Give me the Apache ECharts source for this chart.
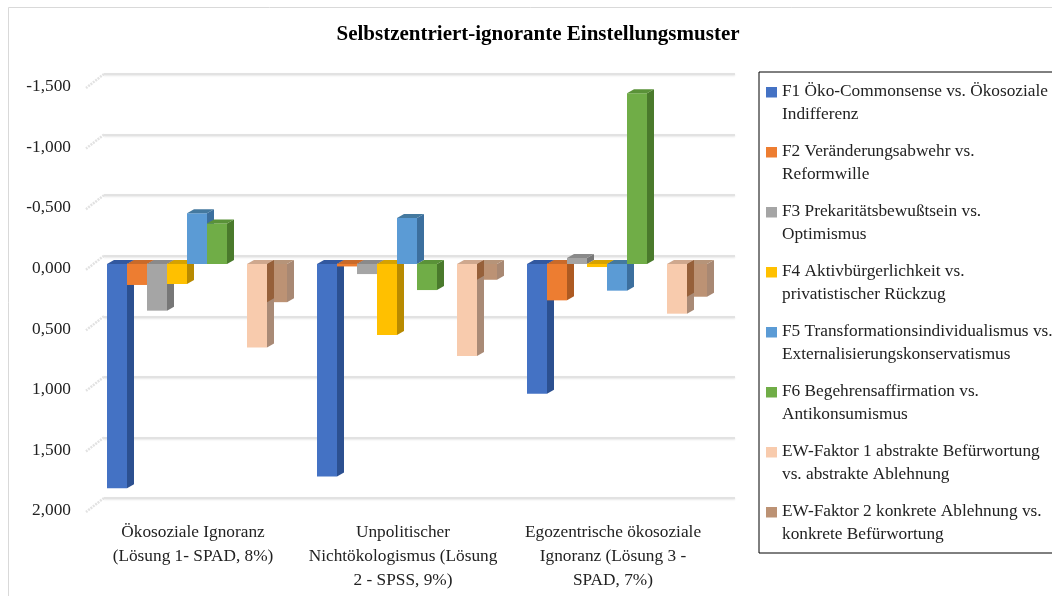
<!DOCTYPE html>
<html>
<head>
<meta charset="utf-8">
<title>Selbstzentriert-ignorante Einstellungsmuster</title>
<script src="https://cdn.jsdelivr.net/npm/echarts@6/dist/echarts.min.js"></script>
<style>
html, body { margin: 0; height: 100%; overflow: hidden; background: #fff; }
#main { width: 1052px; height: 596px; }
</style>
</head>
<body>
<div id="main"></div>
<script>
var chartTitle = 'Selbstzentriert-ignorante Einstellungsmuster';
var categories = [
  'Ökosoziale Ignoranz\n(Lösung 1- SPAD, 8%)',
  'Unpolitischer\nNichtökologismus (Lösung\n2 - SPSS, 9%)',
  'Egozentrische ökosoziale\nIgnoranz (Lösung 3 -\nSPAD, 7%)'
];
var seriesNames = [
  'F1 Öko-Commonsense vs. Ökosoziale\nIndifferenz',
  'F2 Veränderungsabwehr vs.\nReformwille',
  'F3 Prekaritätsbewußtsein vs.\nOptimismus',
  'F4 Aktivbürgerlichkeit vs.\nprivatistischer Rückzug',
  'F5 Transformationsindividualismus vs.\nExternalisierungskonservatismus',
  'F6 Begehrensaffirmation vs.\nAntikonsumismus',
  'EW-Faktor 1 abstrakte Befürwortung\nvs. abstrakte Ablehnung',
  'EW-Faktor 2 konkrete Ablehnung vs.\nkonkrete Befürwortung'
];
var f1 = [1.85, 1.755, 1.07];
var f2 = [0.173, 0.02, 0.30];
var f3 = [0.385, 0.083, -0.05];
var f4 = [0.165, 0.585, 0.025];
var f5 = [-0.42, -0.38, 0.22];
var f6 = [-0.335, 0.215, -1.41];
var ew1 = [0.69, 0.76, 0.41];
var ew2 = [0.315, 0.13, 0.27];
var seriesValues = [f1, f2, f3, f4, f5, f6, ew1, ew2];
var tickValues = [-1.5, -1, -0.5, 0, 0.5, 1, 1.5, 2];

// front, side, top of each column
var frontColors = ['#4472C4', '#ED7D31', '#A5A5A5', '#FFC000', '#5B9BD5', '#70AD47', '#F8CBAD', '#BC9274'];
var sideColors = ['#2C5090', '#AD5A22', '#777777', '#B88A00', '#3C6F9E', '#4A7A2C', '#A98A76', '#A88873'];
var topColors = ['#32589F', '#C96A2A', '#8A8A8A', '#D6A200', '#44799F', '#5A9238', '#CFA88E', '#B69479'];
var sideOver = ['', '', '', '', '', '', '#96603A', ''];

// slot 6 stays empty in the original
var slots = [0, 1, 2, 3, 4, 5, 7, 8];
var barW = 20, depthX = 7, depthY = 4;
var font = '"Liberation Serif", serif';

function fmt(v) {
  return v.toFixed(3).replace('.', ',');
}

function barRenderer(s) {
  return function (params, api) {
    var cat = api.value(0), val = api.value(1);
    var base = api.coord([cat, 0]);
    var end = api.coord([cat, val]);
    var xl = base[0] + 4 - 90 + slots[s] * barW;
    var xr = xl + barW;
    var up = Math.min(base[1], end[1]);
    var lo = Math.max(base[1], end[1]);
    var children = [{
      type: 'rect',
      shape: { x: xl, y: up, width: barW, height: lo - up },
      style: { fill: frontColors[s] }
    }, {
      type: 'polygon',
      shape: { points: [[xr, up], [xr + depthX, up - depthY], [xr + depthX, lo - depthY], [xr, lo]] },
      style: { fill: sideColors[s] }
    }, {
      type: 'polygon',
      shape: { points: [[xl, up], [xl + depthX, up - depthY], [xr + depthX, up - depthY], [xr, up]] },
      style: { fill: topColors[s] }
    }];
    // the peach column's side is see-through where it crosses its neighbour
    if (sideOver[s]) {
      var nb = api.coord([cat, seriesValues[s + 1][cat]])[1];
      children.push({
        type: 'polygon',
        shape: { points: [[xr, up], [xr + depthX, up - depthY], [xr + depthX, nb - depthY], [xr, nb]] },
        style: { fill: sideOver[s] }
      });
    }
    return { type: 'group', children: children };
  };
}

var series = [{
  // little ticks on the side wall
  type: 'custom',
  xAxisIndex: 1,
  yAxisIndex: 1,
  silent: true,
  legendHoverLink: false,
  data: tickValues.map(function (t) { return [0, t]; }),
  renderItem: function (params, api) {
    var p = api.coord([0, api.value(1)]);
    return {
      type: 'line',
      shape: { x1: 104, y1: p[1], x2: 86, y2: p[1] + 14 },
      style: { stroke: '#e2e2e2', lineWidth: 2.5, lineDash: [2, 1] }
    };
  }
}];

// EW2 goes under EW1, the rest left to right
[0, 1, 2, 3, 4, 5, 7, 6].forEach(function (s) {
  series.push({
    name: seriesNames[s],
    type: 'custom',
    xAxisIndex: 0,
    yAxisIndex: 0,
    itemStyle: { color: frontColors[s] },
    encode: { x: 0, y: 1 },
    data: seriesValues[s].map(function (v, i) { return [i, v]; }),
    renderItem: barRenderer(s)
  });
});

var myChart = echarts.init(document.getElementById('main'));
myChart.setOption({
  animation: false,
  backgroundColor: '#fff',
  title: {
    text: chartTitle,
    left: 533,
    top: 19,
    textAlign: 'center',
    textStyle: { fontFamily: font, fontSize: 21, fontWeight: 'bold', color: '#000' }
  },
  legend: {
    data: seriesNames,
    orient: 'vertical',
    left: 759,
    top: 72,
    padding: [8, 20, 7, 7],
    itemGap: 14,
    itemWidth: 11,
    itemHeight: 46,
    symbolKeepAspect: false,
    icon: 'path://M0,0L0,0M0,7H11V17.5H0ZM0,46L0,46',
    borderColor: '#000',
    borderWidth: 1,
    backgroundColor: '#fff',
    textStyle: { fontFamily: font, fontSize: 17.3, lineHeight: 23, color: '#222' }
  },
  graphic: [{
    type: 'rect',
    silent: true,
    z: -1,
    shape: { x: 8.5, y: 7.5, width: 1100, height: 700 },
    style: { fill: 'none', stroke: '#d9d9d9', lineWidth: 1 }
  }],
  grid: [
    { left: 88, top: 82.3, width: 630, height: 424 },
    { left: 104, top: 74, width: 631, height: 424 }
  ],
  xAxis: [{
    type: 'category',
    gridIndex: 0,
    data: categories,
    position: 'bottom',
    axisLine: { show: false },
    axisTick: { show: false },
    axisLabel: {
      interval: 0,
      margin: 14,
      fontFamily: font,
      fontSize: 17.3,
      lineHeight: 24,
      color: '#222'
    }
  }, {
    type: 'category',
    gridIndex: 1,
    data: categories,
    show: false
  }],
  yAxis: [{
    type: 'value',
    gridIndex: 0,
    inverse: true,
    min: -1.5,
    max: 2,
    interval: 0.5,
    axisLine: { show: false },
    axisTick: { show: false },
    splitLine: { show: false },
    axisLabel: {
      margin: 17,
      verticalAlign: 'top',
      lineHeight: 9,
      fontFamily: font,
      fontSize: 17.3,
      color: '#222',
      formatter: fmt
    }
  }, {
    type: 'value',
    gridIndex: 1,
    inverse: true,
    min: -1.5,
    max: 2,
    interval: 0.5,
    axisLine: { show: false },
    axisTick: { show: false },
    axisLabel: { show: false },
    splitLine: {
      lineStyle: {
        color: '#e2e2e2',
        width: 2,
        shadowColor: 'rgba(0,0,0,0.1)',
        shadowBlur: 2,
        shadowOffsetY: 1
      }
    }
  }],
  series: series
});
</script>
</body>
</html>
